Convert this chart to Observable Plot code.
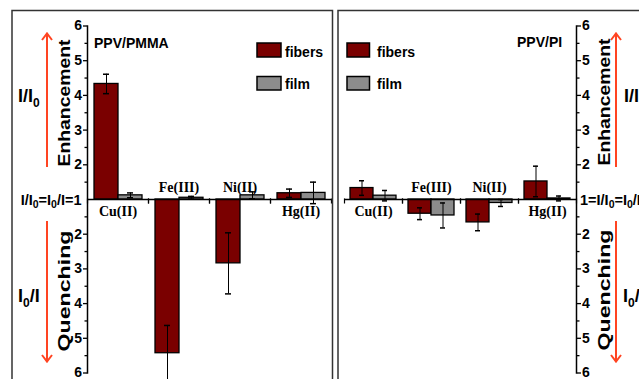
<!DOCTYPE html>
<html>
<head>
<meta charset="utf-8">
<script src="https://cdn.jsdelivr.net/npm/d3@7"></script>
<script src="https://cdn.jsdelivr.net/npm/@observablehq/plot@0.6"></script>
<style>
  html, body { margin: 0; padding: 0; background: #fff; }
  #wrap { position: relative; width: 639px; height: 379px; overflow: hidden; background: #fff; }
  #wrap > svg, #wrap > figure { position: absolute; margin: 0; }
</style>
</head>
<body>
<div id="wrap"></div>
<script>
// ---------- data ----------
const categories = ["Cu(II)", "Fe(III)", "Ni(II)", "Hg(II)"];
const series = ["fibers", "film"];
// signed ratio: positive = enhancement I/I0, negative = quenching I0/I
const pmmaFibers    = [4.33, -5.43, -2.84, 1.18];
const pmmaFibersErr = [0.28,  0.80,  0.88, 0.12];
const pmmaFilm      = [1.12,  1.05,  1.12, 1.19];
const pmmaFilmErr   = [0.07,  0.04,  0.10, 0.31];
const piFibers      = [1.33, -1.41, -1.66, 1.52];
const piFibersErr   = [0.21,  0.17,  0.24, 0.44];
const piFilm        = [1.11, -1.46, -1.10, 1.03];
const piFilmErr     = [0.15,  0.36,  0.10, 0.07];
const tickValues = [-5, -4, -3, -2, -1, 1, 2, 3, 4, 5];
const tickLabels = ["6", "5", "4", "3", "2", "2", "3", "4", "5", "6"];
const minorTicks = [-4.5, -3.5, -2.5, -1.5, -0.5, 0.5, 1.5, 2.5, 3.5, 4.5];
const colors = ["#7a0000", "#8c8c8c"];

// map ratio onto a signed displacement from 1
const toY = v => v > 0 ? v - 1 : v + 1;

function rowsFor(fib, fibErr, fil, filErr) {
  const rows = [];
  categories.forEach((c, i) => {
    rows.push({cat: c, series: "fibers", y: toY(fib[i]), err: fibErr[i]});
    rows.push({cat: c, series: "film", y: toY(fil[i]), err: filErr[i]});
  });
  return rows;
}

const tickDown = { draw(ctx) { ctx.moveTo(0, -1); ctx.lineTo(0, 4); } };

function panel({rows, fib, width, marginLeft, marginRight, side}) {
  const below = categories.filter((c, i) => fib[i] > 0);
  const above = categories.filter((c, i) => fib[i] <= 0);
  const fmt = d => tickLabels[tickValues.indexOf(d)];
  return Plot.plot({
    width, height: 379,
    marginLeft, marginRight, marginTop: 25.5, marginBottom: 6.5,
    style: {background: "transparent", fontFamily: "'Liberation Sans', Arial, sans-serif", fontSize: "14px", fontWeight: "bold", color: "#000"},
    fx: {domain: categories, padding: 0, axis: null},
    x: {domain: series, paddingInner: 0, paddingOuter: 0.25, axis: null},
    y: {domain: [-5, 5], label: null},
    color: {domain: series, range: colors},
    marks: [
      Plot.barY(rows, {fx: "cat", x: "series", y: "y", fill: "series", stroke: "#000", strokeWidth: 1.3}),
      Plot.ruleX(rows, {fx: "cat", x: "series", y1: d => d.y - d.err, y2: d => d.y + d.err, stroke: "#000", strokeWidth: 1}),
      Plot.tickY(rows, {fx: "cat", x: "series", y: d => d.y - d.err, inset: 9, stroke: "#000", strokeWidth: 1.5}),
      Plot.tickY(rows, {fx: "cat", x: "series", y: d => d.y + d.err, inset: 9, stroke: "#000", strokeWidth: 1.5}),
      Plot.ruleY([0], {stroke: "#000", strokeWidth: 1.5}),
      Plot.dot([0], {y: d => d, frameAnchor: "right", symbol: tickDown, stroke: "#000", strokeWidth: 1.2, fill: "none"}),
      Plot.dot([0], {y: d => d, frameAnchor: "left", symbol: tickDown, stroke: "#000", strokeWidth: 1.2, fill: "none"}),
      Plot.text(below, {fx: d => d, y: () => 0, text: d => d, dy: 12, fontFamily: "'Liberation Serif', 'Times New Roman', serif", fontWeight: "bold", fontSize: 14}),
      Plot.text(above, {fx: d => d, y: () => 0, text: d => d, dy: -12, fontFamily: "'Liberation Serif', 'Times New Roman', serif", fontWeight: "bold", fontSize: 14}),
      Plot.frame({anchor: side, facetAnchor: side, stroke: "#000", strokeWidth: 1.5}),
      Plot.axisY({anchor: side, label: null, ticks: tickValues, tickFormat: fmt, tickSize: 4, tickPadding: 1.5, strokeWidth: 1.3}),
      Plot.axisY({anchor: side, label: null, ticks: minorTicks, tickFormat: () => "", tickSize: 2.5, strokeWidth: 1.3})
    ]
  });
}

const wrap = document.getElementById("wrap");

const left = panel({rows: rowsFor(pmmaFibers, pmmaFibersErr, pmmaFilm, pmmaFilmErr), fib: pmmaFibers,
  width: 333, marginLeft: 86, marginRight: 1, side: "left"});
left.style.left = "0px"; left.style.top = "0px";
wrap.appendChild(left);

const right = panel({rows: rowsFor(piFibers, piFibersErr, piFilm, piFilmErr), fib: piFibers,
  width: 301, marginLeft: 4, marginRight: 62, side: "right"});
right.style.left = "338px"; right.style.top = "0px";
wrap.appendChild(right);

// ---------- decorations ----------
const ns = "http://www.w3.org/2000/svg";
const ov = document.createElementNS(ns, "svg");
ov.setAttribute("width", 639); ov.setAttribute("height", 379);
ov.style.left = "0px"; ov.style.top = "0px"; ov.style.pointerEvents = "none";
const red = "#ff4422";
const sans = "'Liberation Sans', Arial, sans-serif";
ov.innerHTML = `
  <g fill="none" stroke="#333" stroke-width="1.5">
    <path d="M12,390 V10.5 H332.5 V390"/>
    <path d="M338,390 V10.5 H650"/>
  </g>
  <g stroke="${red}" stroke-width="2" fill="none">
    <path d="M47,167 V34 M42,40 L47,33.5 L52,40"/>
    <path d="M47,221 V361 M42,355 L47,361.5 L52,355"/>
    <path d="M616,167 V34 M611,40 L616,33.5 L621,40"/>
    <path d="M616,221 V361 M611,355 L616,361.5 L621,355"/>
  </g>
  <g font-family="${sans}" font-weight="bold" fill="#000">
    <text transform="translate(70,103) rotate(-90)" text-anchor="middle" font-size="16.5" textLength="127" lengthAdjust="spacingAndGlyphs">Enhancement</text>
    <text transform="translate(70,291) rotate(-90)" text-anchor="middle" font-size="16.5" textLength="121" lengthAdjust="spacingAndGlyphs">Quenching</text>
    <text transform="translate(610,102) rotate(-90)" text-anchor="middle" font-size="16.5" textLength="127" lengthAdjust="spacingAndGlyphs">Enhancement</text>
    <text transform="translate(610,290) rotate(-90)" text-anchor="middle" font-size="16.5" textLength="121" lengthAdjust="spacingAndGlyphs">Quenching</text>
    <text x="18" y="102" font-size="18">I/I<tspan dy="5" font-size="12">0</tspan></text>
    <text x="18" y="302" font-size="18">I<tspan dy="5" font-size="12">0</tspan><tspan dy="-5">/I</tspan></text>
    <text x="624" y="102" font-size="18">I/I<tspan dy="5" font-size="12">0</tspan></text>
    <text x="623" y="302" font-size="18">I<tspan dy="5" font-size="12">0</tspan><tspan dy="-5">/I</tspan></text>
    <text x="81.5" y="204.5" font-size="14.5" text-anchor="end">I/I<tspan dy="3" font-size="10.5">0</tspan><tspan dy="-3">=I</tspan><tspan dy="3" font-size="10.5">0</tspan><tspan dy="-3">/I=1</tspan></text>
    <text x="580" y="204.5" font-size="14.5">1=I/I<tspan dy="3" font-size="10.5">0</tspan><tspan dy="-3">=I</tspan><tspan dy="3" font-size="10.5">0</tspan><tspan dy="-3">/I</tspan></text>
    <text x="94" y="48" font-size="14">PPV/PMMA</text>
    <text x="517" y="47" font-size="14">PPV/PI</text>
    <g font-size="14">
      <rect x="257" y="43" width="24" height="14" fill="${colors[0]}" stroke="#000" stroke-width="1.5"/>
      <text x="285" y="57">fibers</text>
      <rect x="257" y="76.5" width="24" height="13.5" fill="${colors[1]}" stroke="#000" stroke-width="1.5"/>
      <text x="285" y="89">film</text>
      <rect x="347" y="43" width="22.5" height="14" fill="${colors[0]}" stroke="#000" stroke-width="1.5"/>
      <text x="377" y="57">fibers</text>
      <rect x="347" y="76.5" width="22.5" height="13.5" fill="${colors[1]}" stroke="#000" stroke-width="1.5"/>
      <text x="377" y="89">film</text>
    </g>
  </g>`;
wrap.appendChild(ov);
</script>
</body>
</html>
